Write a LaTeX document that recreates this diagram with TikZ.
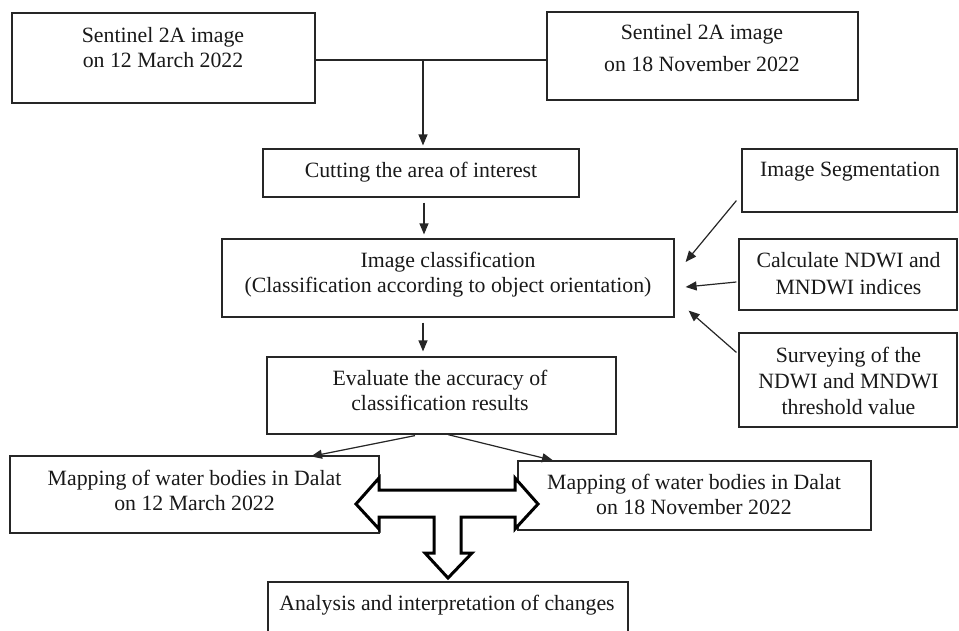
\documentclass[tikz,border=0pt]{standalone}
\usepackage{fontspec}
\setmainfont{Liberation Serif}
\usetikzlibrary{arrows.meta,calc}
\tikzset{
  box/.style={draw=black!85, line width=1.2pt, inner sep=0pt},
  txt/.style={align=center, inner sep=0pt, text=black!90, font=\fontsize{21.8}{25}\selectfont},
  arr/.style={-{Triangle[length=11pt,width=9pt]}, line width=1.2pt, draw=black!85},
  link/.style={line width=1.2pt, draw=black!85},
  bigarrow/.style={draw=black, line width=3pt, fill=white, line join=miter},
}
\begin{document}
\begin{tikzpicture}[x=1pt,y=-1pt]
\useasboundingbox (0,0) rectangle (959,630);
\clip (0,0) rectangle (959,630);
% boxes
\node[box, minimum width=303pt, minimum height=90pt] (s1) at (163.5,58) {};
\node[box, minimum width=311pt, minimum height=88pt] (s2) at (702.5,56) {};
\node[box, minimum width=316pt, minimum height=48pt] (cut) at (421,173) {};
\node[box, minimum width=452pt, minimum height=78pt] (cls) at (448,278) {};
\node[box, minimum width=215pt, minimum height=63pt] (seg) at (849.5,180.5) {};
\node[box, minimum width=218pt, minimum height=71pt] (calc) at (848,274.5) {};
\node[box, minimum width=218pt, minimum height=94pt] (surv) at (848,380) {};
\node[box, minimum width=349pt, minimum height=77pt] (eval) at (441.5,395.5) {};
\node[box, minimum width=369pt, minimum height=77pt] (m1) at (194.5,494.5) {};
\node[box, minimum width=353pt, minimum height=69pt] (m2) at (694.5,495.5) {};
\node[box, minimum width=360pt, minimum height=70pt] (ana) at (448,617) {};
% texts
\node[txt] (s1t) at (163,47.5) {Sentinel 2A image\\on 12 March 2022};
\node[txt, font=\fontsize{21.8}{32}\selectfont] (s2t) at (702,48.5) {Sentinel 2A image\\on 18 November 2022};
\node[txt] (cutt) at (421,172) {Cutting the area of interest};
\node[txt] (clst) at (448,274.5) {Image classification\\(Classification according to object orientation)};
\node[txt] (segt) at (850,172) {Image Segmentation};
\node[txt, font=\fontsize{21.8}{27}\selectfont] (calct) at (848.5,273.5) {Calculate NDWI and\\MNDWI indices};
\node[txt, font=\fontsize{21.8}{26}\selectfont] (survt) at (848.5,381) {Surveying of the\\NDWI and MNDWI\\threshold value};
\node[txt] (evalt) at (440,390.5) {Evaluate the accuracy of\\classification results};
\node[txt] (m1t) at (194.5,490.5) {Mapping of water bodies in Dalat\\on 12 March 2022};
\node[txt] (m2t) at (694,494.5) {Mapping of water bodies in Dalat\\on 18 November 2022};
\node[txt] (anat) at (447,605) {Analysis and interpretation of changes};
% connectors
\coordinate (j) at (423,60);
\draw[link] (s1.east |- j) -- (s2.west |- j);
\draw[arr, shorten >=3pt] (j) -- (cut.north -| j);
\draw[arr] ($(cut.south)+(3,5)$) -- ($(cls.north)+(-24,-4)$);
\draw[arr] ($(cls.south)+(-25,5)$) -- ($(eval.north)+(-18.5,-5)$);
\draw[arr] ($(eval.south)+(-26.5,1)$) -- ($(m1.north)+(116.5,1)$);
\draw[arr] ($(eval.south)+(6.5,0)$) -- ($(m2.north)+(-141.5,0)$);
\draw[arr] ($(seg.south west)+(-5,-12)$) -- ($(cls.east)+(11,-16)$);
\draw[arr] ($(calc.west)+(-2,7.5)$) -- ($(cls.east)+(11,9)$);
\draw[arr] ($(surv.north west)+(-2,20)$) -- ($(cls.south east)+(14,-7)$);
% block T arrow
\draw[bigarrow] (356,504) -- (379,478) -- (379,490) -- (515,490) -- (515,478)
  -- (538,504) -- (515,529) -- (515,517) -- (461,517) -- (461,553) -- (472,553)
  -- (448,578) -- (425,553) -- (434,553) -- (434,517) -- (379,517) -- (379,529) -- cycle;
\end{tikzpicture}
\end{document}
